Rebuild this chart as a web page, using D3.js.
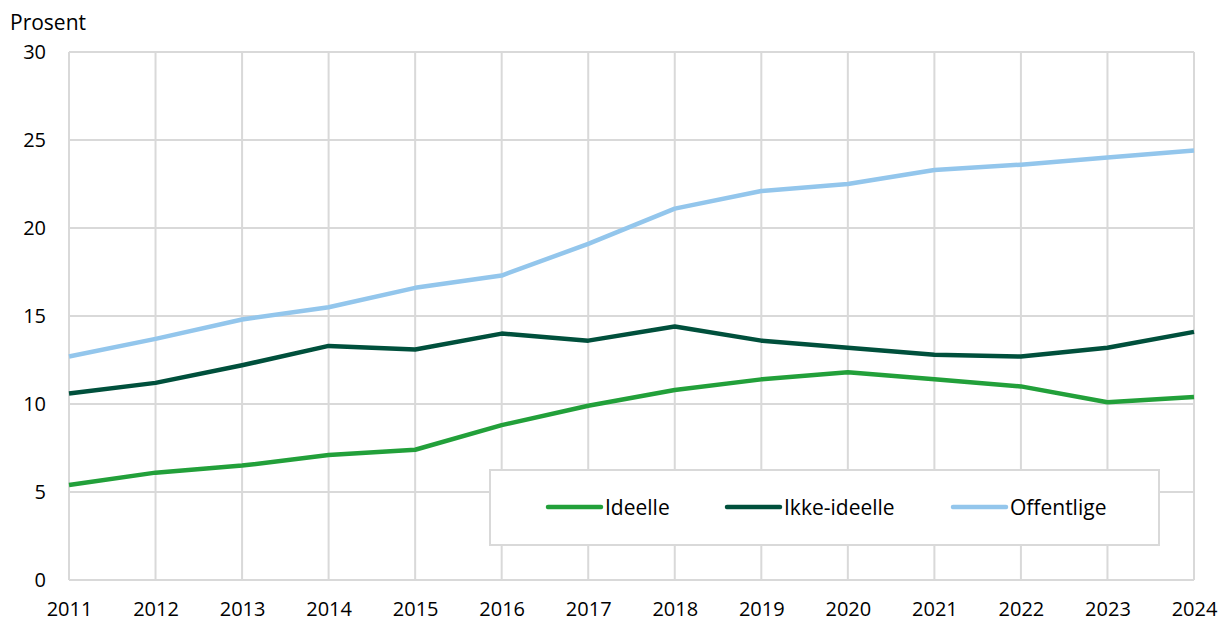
<!DOCTYPE html>
<html>
<head>
<meta charset="utf-8">
<script src="https://cdn.jsdelivr.net/npm/d3@7"></script>
<style>
  body { margin: 0; background: #fff; }
  text { font-family: "Open Sans", sans-serif; fill: #000; }
</style>
</head>
<body>
<svg width="1218" height="621"></svg>
<script>
const years = [2011, 2012, 2013, 2014, 2015, 2016, 2017, 2018, 2019, 2020, 2021, 2022, 2023, 2024];
const ideelle = [5.4, 6.1, 6.5, 7.1, 7.4, 8.8, 9.9, 10.8, 11.4, 11.8, 11.4, 11.0, 10.1, 10.4];
const ikkeIdeelle = [10.6, 11.2, 12.2, 13.3, 13.1, 14.0, 13.6, 14.4, 13.6, 13.2, 12.8, 12.7, 13.2, 14.1];
const offentlige = [12.7, 13.7, 14.8, 15.5, 16.6, 17.3, 19.1, 21.1, 22.1, 22.5, 23.3, 23.6, 24.0, 24.4];
const yTicks = [0, 5, 10, 15, 20, 25, 30];

const series = [
  { name: 'Ideelle', values: ideelle, color: '#22a03a' },
  { name: 'Ikke-ideelle', values: ikkeIdeelle, color: '#00503c' },
  { name: 'Offentlige', values: offentlige, color: '#93c6ec' }
];

const svg = d3.select('svg');
const plotLeft = 69, plotRight = 1194, plotTop = 52, plotBottom = 580;

const x = d3.scaleLinear().domain([2011, 2024]).range([plotLeft, plotRight]);
const y = d3.scaleLinear().domain([0, 30]).range([plotBottom, plotTop]);

// grid
const grid = svg.append('g');
grid.selectAll('.h').data(yTicks).join('line')
  .attr('x1', plotLeft).attr('x2', plotRight)
  .attr('y1', d => y(d)).attr('y2', d => y(d))
  .attr('stroke', '#d9d9d9').attr('stroke-width', 2);
grid.selectAll('.v').data(years).join('line')
  .attr('x1', d => x(d)).attr('x2', d => x(d))
  .attr('y1', plotTop).attr('y2', plotBottom)
  .attr('stroke', '#d9d9d9').attr('stroke-width', 2);

// axis labels
const yAxis = svg.append('g')
  .attr('transform', `translate(${plotLeft},0)`)
  .call(d3.axisLeft(y).tickValues(yTicks).tickSize(0).tickPadding(23));
yAxis.select('.domain').remove();
yAxis.selectAll('text').style('font-size', '20px').style('font-family', '"Open Sans", sans-serif').attr('fill', '#000');

const xAxis = svg.append('g')
  .attr('transform', `translate(0,${plotBottom})`)
  .call(d3.axisBottom(x).tickValues(years).tickFormat(d3.format('d')).tickSize(0).tickPadding(22));
xAxis.select('.domain').remove();
xAxis.selectAll('text').style('font-size', '20px').style('font-family', '"Open Sans", sans-serif').attr('fill', '#000');

svg.append('text').attr('x', 10).attr('y', 30).style('font-size', '21px').text('Prosent');

// lines
const line = d3.line().x((d, i) => x(years[i])).y(d => y(d));
svg.selectAll('.series').data(series).join('path')
  .attr('d', d => line(d.values))
  .attr('fill', 'none')
  .attr('stroke', d => d.color)
  .attr('stroke-width', 4.5)
  .attr('stroke-linejoin', 'round');

// legend
svg.append('rect').attr('x', 490).attr('y', 470).attr('width', 669).attr('height', 75)
  .attr('fill', '#fff').attr('stroke', '#d9d9d9').attr('stroke-width', 2);
const legendX = [548, 727, 953];
const lg = svg.selectAll('.lg').data(series).join('g')
  .attr('transform', (d, i) => `translate(${legendX[i]},507)`);
lg.append('line').attr('x1', 0).attr('x2', 53)
  .attr('stroke', d => d.color).attr('stroke-width', 4.5).attr('stroke-linecap', 'round');
lg.append('text').attr('x', 57).attr('y', 7.5).style('font-size', '21px').text(d => d.name);
</script>
</body>
</html>
